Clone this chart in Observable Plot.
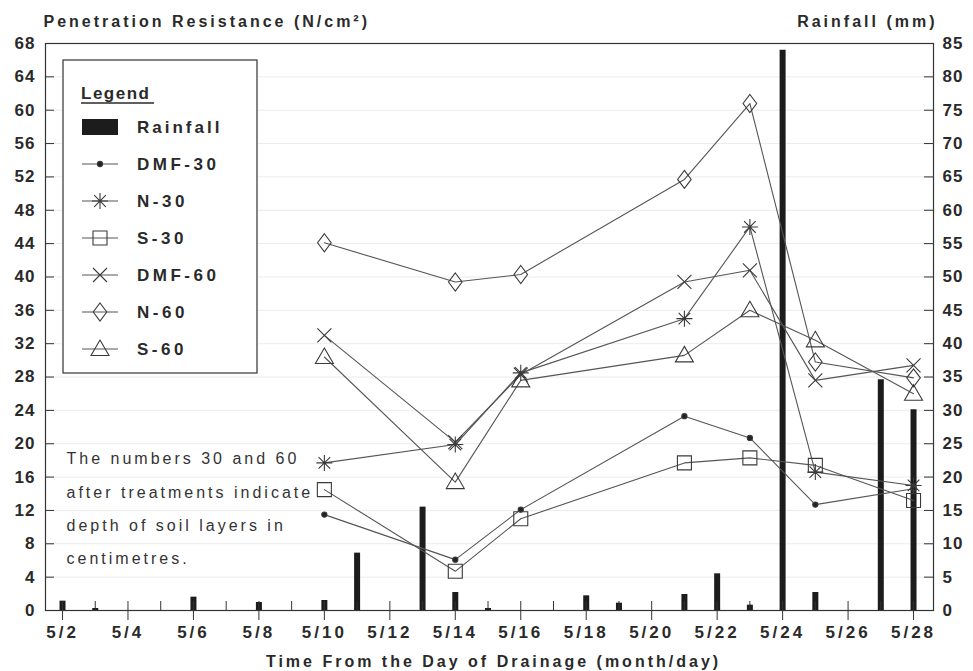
<!DOCTYPE html>
<html>
<head>
<meta charset="utf-8">
<script src="https://cdn.jsdelivr.net/npm/d3@7"></script>
<script src="https://cdn.jsdelivr.net/npm/@observablehq/plot@0.6"></script>
<style>
  html, body { margin: 0; padding: 0; background: #fff; }
  #chart { width: 973px; height: 671px; }
  svg text { font-family: "Liberation Sans", Arial, Helvetica, sans-serif; }
</style>
</head>
<body>
<div id="chart"></div>
<script>
// Daily rainfall (mm) after drainage, May
const rainDays = [2, 3, 6, 8, 10, 11, 13, 14, 15, 18, 19, 21, 22, 23, 24, 25, 27, 28];
const rainMm   = [1.4, 0.3, 2.0, 1.2, 1.5, 8.6, 15.5, 2.7, 0.3, 2.2, 1.1, 2.4, 5.5, 0.8, 84.0, 2.7, 34.6, 30.1];

// Penetration resistance (N/cm²) on sampling days
const sampleDays = [10, 14, 16, 21, 23, 25, 28];
const seriesNames = ["DMF-30", "N-30", "S-30", "DMF-60", "N-60", "S-60"];
const dmf30 = [11.5, 6.1, 12.1, 23.3, 20.7, 12.7, 14.6];
const n30   = [17.7, 19.9, 28.5, 35.0, 46.0, 16.6, 15.0];
const s30   = [14.5, 4.7, 11.0, 17.7, 18.3, 17.4, 13.2];
const dmf60 = [33.0, 20.2, 28.3, 39.4, 40.8, 27.6, 29.4];
const n60   = [44.1, 39.4, 40.3, 51.7, 60.8, 29.8, 27.9];
const s60   = [30.4, 15.4, 27.6, 30.6, 36.0, 32.4, 26.0];
const seriesValues = [dmf30, n30, s30, dmf60, n60, s60];

// Axis ticks
const leftTicks  = [0, 4, 8, 12, 16, 20, 24, 28, 32, 36, 40, 44, 48, 52, 56, 60, 64, 68];
const rightTicks = [0, 5, 10, 15, 20, 25, 30, 35, 40, 45, 50, 55, 60, 65, 70, 75, 80, 85];
const allDays    = [2, 3, 4, 5, 6, 7, 8, 9, 10, 11, 12, 13, 14, 15, 16, 17, 18, 19, 20, 21, 22, 23, 24, 25, 26, 27, 28];
const labelDays  = [2, 4, 6, 8, 10, 12, 14, 16, 18, 20, 22, 24, 26, 28];
const dayLabels  = ["5/2", "5/4", "5/6", "5/8", "5/10", "5/12", "5/14", "5/16", "5/18", "5/20", "5/22", "5/24", "5/26", "5/28"];

const note = "The numbers 30 and 60\nafter treatments indicate\ndepth of soil layers in\ncentimetres.";

// 85 mm of rain sits level with 68 N/cm²
const MM_PER_N = 85 / 68;

const rain = rainDays.map((day, i) => ({day, mm: rainMm[i]}));
const rows = seriesNames.flatMap((series, s) =>
  sampleDays.map((day, i) => ({series, day, value: seriesValues[s][i]})));

// Marker shapes, drawn at fixed pixel size
const symbols = {
  "DMF-30": {draw(c) { c.moveTo(2.6, 0); c.arc(0, 0, 2.6, 0, 2 * Math.PI); }},
  "N-30": {draw(c) {
    const r = 8, d = 5.8;
    c.moveTo(0, -r); c.lineTo(0, r);
    c.moveTo(-r, 0); c.lineTo(r, 0);
    c.moveTo(-d, -d); c.lineTo(d, d);
    c.moveTo(-d, d); c.lineTo(d, -d);
  }},
  "S-30": {draw(c) { c.rect(-7, -7, 14, 14); }},
  "DMF-60": {draw(c) { const r = 7; c.moveTo(-r, -r); c.lineTo(r, r); c.moveTo(-r, r); c.lineTo(r, -r); }},
  "N-60": {draw(c) { c.moveTo(0, -9); c.lineTo(6.8, 0); c.lineTo(0, 9); c.lineTo(-6.8, 0); c.closePath(); }},
  "S-60": {draw(c) { c.moveTo(0, -9); c.lineTo(9, 6.5); c.lineTo(-9, 6.5); c.closePath(); }}
};
const symbolFill = {"DMF-30": "#222"};

const ink = "#2a2a2a";
const lineInk = "#555";

const W = 973, H = 671, ML = 45, MR = 40, MT = 43, MB = 61;
const frameW = W - ML - MR, frameH = H - MT - MB;
const tickLen = 9;

const plot = Plot.plot({
  width: W,
  height: H,
  marginLeft: ML,
  marginRight: MR,
  marginTop: MT,
  marginBottom: MB,
  style: {fontFamily: "Liberation Sans, Arial, sans-serif", color: ink, background: "#fff"},
  x: {domain: [1.48, 28.61], axis: null},
  y: {domain: [0, 68], axis: null},
  marks: [
    Plot.gridY(leftTicks.slice(1, -1), {stroke: "#bdbdbd", strokeOpacity: 0.3}),
    Plot.ruleX(rain, {x: "day", y1: 0, y2: d => d.mm / MM_PER_N, stroke: "#1c1c1c", strokeWidth: 6}),
    Plot.line(rows, {x: "day", y: "value", z: "series", stroke: lineInk, strokeWidth: 1.1}),
    ...seriesNames.map(name =>
      Plot.dot(rows.filter(d => d.series === name), {
        x: "day", y: "value",
        symbol: symbols[name],
        fill: symbolFill[name] || "none",
        stroke: "#3a3a3a",
        strokeWidth: 1.1
      })),
    Plot.frame({stroke: "#333", strokeWidth: 1.2}),
    // inward ticks on all three axes
    Plot.tickY(leftTicks, {y: d => d, insetRight: frameW - tickLen, stroke: "#333"}),
    Plot.tickY(rightTicks, {y: d => d / MM_PER_N, insetLeft: frameW - tickLen, stroke: "#333"}),
    Plot.tickX(allDays, {x: d => d, insetTop: frameH - tickLen, stroke: "#333"}),
    // tick labels (labelled days also get an outward tick)
    Plot.axisY({anchor: "left", ticks: leftTicks, tickSize: 0, tickPadding: 10, label: null,
      fontSize: 17, fontWeight: "bold", fill: ink}),
    Plot.axisY({anchor: "right", ticks: rightTicks.map(v => v / MM_PER_N), tickSize: 0, tickPadding: 9, label: null,
      tickFormat: v => String(Math.round(v * MM_PER_N)),
      fontSize: 17, fontWeight: "bold", fill: ink}),
    Plot.axisX({anchor: "bottom", ticks: labelDays, tickSize: 10, tickPadding: 5, label: null,
      tickFormat: d => dayLabels[labelDays.indexOf(d)],
      fontSize: 17, fontWeight: "bold", fill: ink, stroke: "#333"}),
    // axis titles
    Plot.text(["Penetration Resistance (N/cm²)"], {frameAnchor: "top-left", textAnchor: "start", lineAnchor: "middle",
      dx: -2, dy: -22, fontSize: 16, fontWeight: "bold", fill: ink}),
    Plot.text(["Rainfall (mm)"], {frameAnchor: "top-right", textAnchor: "end", lineAnchor: "middle",
      dx: 4, dy: -22, fontSize: 16, fontWeight: "bold", fill: ink}),
    Plot.text(["Time From the Day of Drainage (month/day)"], {frameAnchor: "bottom", lineAnchor: "middle",
      dx: 4, dy: 51, fontSize: 16, fontWeight: "bold", fill: ink}),
    // explanatory note
    Plot.text([note], {frameAnchor: "bottom-left", textAnchor: "start", lineAnchor: "middle",
      dx: 21, dy: -107, fontSize: 16, lineHeight: 2.07, fill: "#333"})
  ]
});

document.getElementById("chart").appendChild(plot);

const svg = d3.select(plot);
svg.selectAll('g[aria-label="y-axis tick label"] text').style("letter-spacing", "1px");
svg.selectAll('g[aria-label="x-axis tick label"] text').style("letter-spacing", "3px");
svg.selectAll('g[aria-label="text"] text').style("letter-spacing", "3px");

// Legend box inside the plotting area
const lg = svg.append("g").attr("class", "legend").attr("text-anchor", "start");
lg.append("rect").attr("x", 63).attr("y", 60).attr("width", 194).attr("height", 313)
  .attr("fill", "#fff").attr("stroke", "#333").attr("stroke-width", 1.2);
lg.append("text").attr("x", 81).attr("y", 99).text("Legend")
  .attr("font-size", 17).attr("font-weight", "bold").attr("fill", ink).style("letter-spacing", "1.5px");
lg.append("line").attr("x1", 81).attr("x2", 154).attr("y1", 103).attr("y2", 103)
  .attr("stroke", ink).attr("stroke-width", 1.3);

const entryY = 127, entryStep = 37;
lg.append("rect").attr("x", 82).attr("y", entryY - 8).attr("width", 36).attr("height", 16).attr("fill", "#1c1c1c");
lg.append("text").attr("x", 137).attr("y", entryY).attr("dy", "0.36em").text("Rainfall")
  .attr("font-size", 17).attr("font-weight", "bold").attr("fill", ink).style("letter-spacing", "3px");

seriesNames.forEach((name, i) => {
  const y = entryY + entryStep * (i + 1);
  lg.append("line").attr("x1", 82).attr("x2", 118).attr("y1", y).attr("y2", y)
    .attr("stroke", lineInk).attr("stroke-width", 1);
  lg.append("path").attr("transform", `translate(100,${y})`)
    .attr("d", d3.symbol(symbols[name])())
    .attr("fill", symbolFill[name] || "none").attr("stroke", "#3a3a3a").attr("stroke-width", 1.1);
  lg.append("text").attr("x", 137).attr("y", y).attr("dy", "0.36em").text(name)
    .attr("font-size", 17).attr("font-weight", "bold").attr("fill", ink).style("letter-spacing", "3.5px");
});
</script>
</body>
</html>
